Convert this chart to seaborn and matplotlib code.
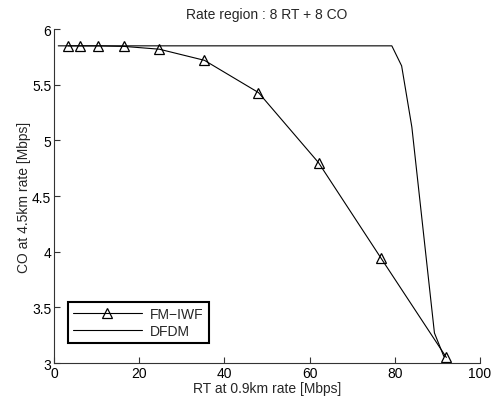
import matplotlib
matplotlib.use("Agg")
import matplotlib.pyplot as plt
import seaborn as sns
import pandas as pd

sns.set_theme(style="white")
plt.rcParams['font.family'] = ['Liberation Sans', 'DejaVu Sans']

fm_x = [3.3, 6.0, 10.3, 16.4, 24.7, 35.3, 48.0, 62.1, 76.8, 92.1]
fm_y = [5.85, 5.85, 5.85, 5.845, 5.82, 5.72, 5.43, 4.80, 3.94, 3.05]
df_x = [1.0, 79.3, 81.6, 84.0, 89.3, 91.5]
df_y = [5.85, 5.85, 5.67, 5.12, 3.27, 3.06]

fm = pd.DataFrame({"x": fm_x, "y": fm_y})
dfdm = pd.DataFrame({"x": df_x, "y": df_y})

fig = plt.figure(figsize=(5.02, 4.02), dpi=100)
ax = fig.add_axes([0.1076, 0.0945, 0.8486, 0.8305])

sns.lineplot(data=fm, x="x", y="y", ax=ax, color="black", linewidth=0.8,
             marker="^", markersize=7, markerfacecolor="none",
             markeredgecolor="black", markeredgewidth=0.9, label="FM\u2212IWF", sort=False)
sns.lineplot(data=dfdm, x="x", y="y", ax=ax, color="black", linewidth=0.8,
             label="DFDM", sort=False)

ax.set_xlim(0, 100)
ax.set_ylim(3, 6)
ax.set_xticks([0, 20, 40, 60, 80, 100])
ax.set_yticks([3, 3.5, 4, 4.5, 5, 5.5, 6])
ax.set_yticklabels(["3", "3.5", "4", "4.5", "5", "5.5", "6"])
ax.tick_params(bottom=True, left=True, direction="in", length=4, width=0.8,
               colors="#333333", labelsize=10, labelcolor="black", pad=2)
for s in ["top", "right"]:
    ax.spines[s].set_visible(False)
for s in ["left", "bottom"]:
    ax.spines[s].set_color("#333333")
    ax.spines[s].set_linewidth(0.8)

ax.set_title("Rate region : 8 RT + 8 CO", fontsize=10, pad=8)
ax.set_xlabel("RT at 0.9km rate [Mbps]", fontsize=10, labelpad=1)
ax.set_ylabel("CO at 4.5km rate [Mbps]", fontsize=10, labelpad=1)

leg = ax.legend(loc="lower left", bbox_to_anchor=(0.032, 0.06), fontsize=10,
                fancybox=False, framealpha=1, edgecolor="black",
                handlelength=5.0, borderpad=0.35, labelspacing=0.25, handletextpad=0.6,
                borderaxespad=0)
leg.get_frame().set_linewidth(1.5)

fig.savefig("out.png", dpi=100)
